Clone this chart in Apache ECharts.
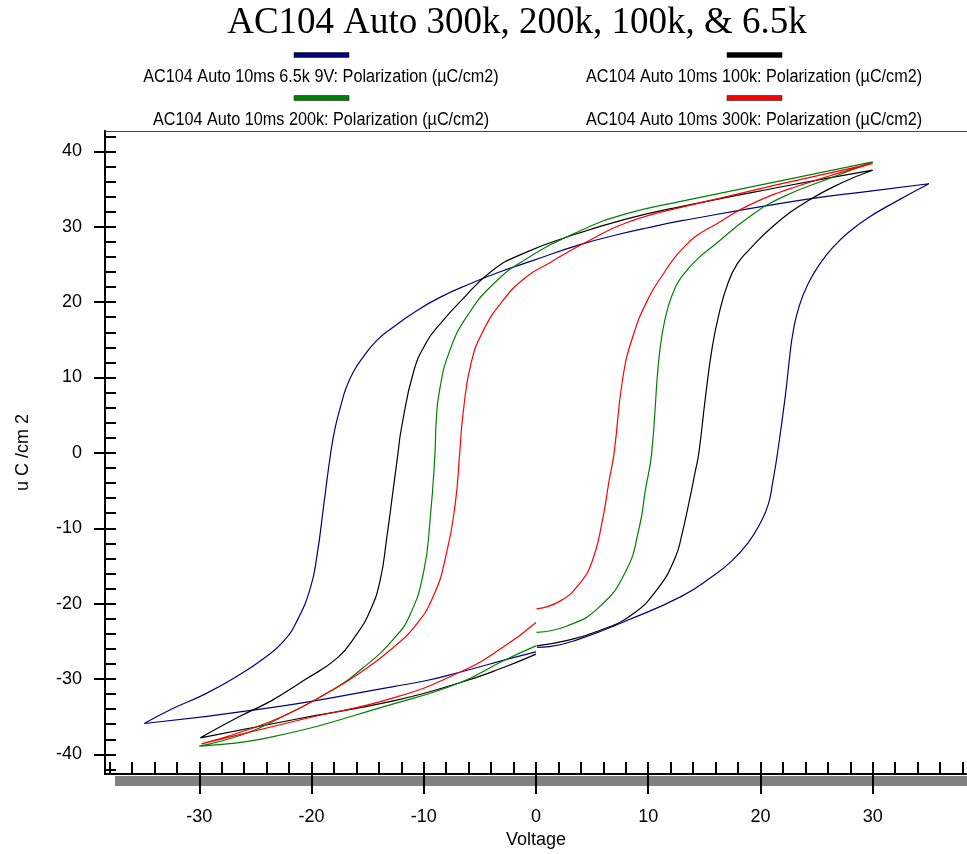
<!DOCTYPE html>
<html><head><meta charset="utf-8">
<script src="https://cdn.jsdelivr.net/npm/echarts@6/dist/echarts.min.js"></script>
<style>html,body{margin:0;padding:0;background:#fff}#c{width:967px;height:854px}</style>
</head><body><div id="c"></div>
<script>
const chartTitle = 'AC104 Auto 300k, 200k, 100k, & 6.5k';
const seriesNames = [
  'AC104 Auto 10ms 6.5k 9V: Polarization (µC/cm2)',
  'AC104 Auto 10ms 100k: Polarization (µC/cm2)',
  'AC104 Auto 10ms 200k: Polarization (µC/cm2)',
  'AC104 Auto 10ms 300k: Polarization (µC/cm2)'
];
const seriesColors = ['#000080', '#000000', '#008000', '#ff0000'];
const xTickLabels = [-30, -20, -10, 0, 10, 20, 30];
const xMinorTicks = [-38,-36,-34,-32,-30,-28,-26,-24,-22,-20,-18,-16,-14,-12,-10,-8,-6,-4,-2,0,2,4,6,8,10,12,14,16,18,20,22,24,26,28,30,32,34,36,38];
const yTickLabels = [-40, -30, -20, -10, 0, 10, 20, 30, 40];
const yMinorTicks = [-42,-40,-38,-36,-34,-32,-30,-28,-26,-24,-22,-20,-18,-16,-14,-12,-10,-8,-6,-4,-2,0,2,4,6,8,10,12,14,16,18,20,22,24,26,28,30,32,34,36,38,40,42];

// 6.5k 9V loop (voltage, polarization)
const v6k5 = [0.1,1.2,3.85,8.0,13.0,15.7,17.4,18.9,19.95,20.7,21.1,21.5,22.2,22.6,22.9,23.4,24.2,25.4,26.6,27.8,29.6,31.9,35.0,
  29.6,23.9,13.0,9.75,7.4,3.85,-0.3,-3.25,-5.6,-8.6,-10.9,-12.7,-14.2,-15.4,-16.25,-16.9,-17.4,-17.9,-18.3,-18.9,-19.5,-20.1,-21.3,-22.5,-24.2,-26.6,-29.5,-32.5,-34.9,
  -23.6,-12.7,-9.75,-6.8,-2.1,0];
const p6k5 = [-25.8,-25.7,-24.7,-22.3,-19.0,-16.4,-14.4,-11.9,-9.4,-6.8,-3.8,-0.2,7.4,12.7,16.0,19.2,22.3,25.3,27.5,29.2,31.2,33.2,35.7,
  34.7,33.6,30.8,29.8,29.0,27.6,25.5,24.0,22.6,20.6,18.6,16.7,14.9,12.7,10.8,8.7,6.2,3.3,-0.1,-6.8,-13.5,-17.9,-22.3,-25.0,-27.2,-29.6,-32.0,-34.0,-35.9,
  -33.8,-31.0,-30.2,-29.1,-27.2,-26.4];

// 100k loop
const v100k = [0.05,2.7,5.6,8.6,10.9,12.4,13.0,13.6,14.2,14.5,15.1,15.7,16.3,17.1,17.9,18.9,21.3,24.2,27.2,30.0,
  21.9,13.0,8.0,2.7,-0.9,-3.8,-6.8,-8.6,-9.75,-10.9,-12.0,-12.3,-12.7,-13.3,-13.9,-14.8,-16.0,-17.7,-20.7,-23.6,-26.6,-29.9,
  -21.3,-12.7,-6.8,-2.95,0];
const p100k = [-25.6,-24.9,-23.6,-21.4,-17.9,-13.9,-10.8,-6.8,-2.4,-0.1,7.4,14.0,18.4,22.5,25.0,26.8,30.3,33.4,35.8,37.5,
  35.3,32.7,31.0,28.6,26.6,24.3,20.0,17.0,14.7,10.8,3.2,-0.1,-4.6,-11.3,-17.0,-21.0,-24.1,-27.2,-30.2,-32.9,-35.1,-37.8,
  -35.3,-32.9,-30.5,-28.5,-26.7];

// 200k loop
const v200k = [0.05,2.7,5.6,8.0,9.2,9.75,10.3,10.9,11.3,11.8,12.4,13.0,14.3,16.0,18.9,21.9,26.3,30.0,
  13.0,8.0,3.85,-0.9,-3.8,-6.2,-7.7,-8.6,-8.9,-9.0,-9.45,-10.0,-11.2,-12.7,-15.4,-18.3,-22.2,-26.0,-30.0,
  -23.6,-12.7,-6.8,-2.95,0];
const p200k = [-23.8,-23.0,-20.5,-15.7,-9.9,-4.9,-0.1,11.8,16.3,19.5,21.9,23.4,25.6,27.7,31.2,33.9,36.5,38.6,
  33.4,31.7,29.4,25.7,22.4,18.0,13.5,8.25,4.0,-0.1,-9.1,-15.7,-21.4,-24.7,-28.5,-31.6,-34.7,-37.3,-38.9,
  -37.7,-33.3,-30.5,-27.6,-25.6];

// 300k loop
const v300k = [0.05,2.1,3.85,5.0,5.9,6.5,6.95,7.7,8.6,10.05,11.5,12.3,13.0,14.3,16.0,18.9,23.35,30.0,
  13.0,8.0,4.4,1.2,-0.9,-2.95,-4.7,-5.8,-6.5,-6.8,-7.2,-8.0,-9.2,-10.9,-12.7,-15.4,-18.3,-22.2,-26.0,-29.8,
  -20.7,-12.7,-6.8,-2.95,0];
const p300k = [-20.7,-19.7,-17.4,-14.4,-9.1,-3.8,-0.1,9.6,15.3,20.6,24.1,25.8,27.0,28.8,30.3,32.8,35.4,38.4,
  32.6,30.5,27.9,25.2,23.3,20.2,16.2,11.8,5.2,-0.1,-6.8,-13.5,-19.2,-23.2,-25.8,-28.9,-31.6,-34.7,-36.9,-38.6,
  -35.3,-32.5,-29.1,-25.8,-22.5];

const loops = [[v6k5, p6k5], [v100k, p100k], [v200k, p200k], [v300k, p300k]];
const zip = (a, b) => a.map((v, i) => [v, b[i]]);

const X_MIN = -38.4, X_MAX = 38.4, Y_MIN = -42.6, Y_MAX = 42.7;
const sans = 'Liberation Sans, Arial, sans-serif';

const chart = echarts.init(document.getElementById('c'));

const legendPos = [
  {cx: 321, barY: 55, textY: 77},
  {cx: 754, barY: 55, textY: 77},
  {cx: 321, barY: 98, textY: 120},
  {cx: 754, barY: 98, textY: 120}
];
const graphics = [
  {type: 'rect', z: -10, shape: {x: 115, y: 776, width: 860, height: 10}, style: {fill: '#808080'}}
];
seriesNames.forEach((n, i) => {
  const p = legendPos[i];
  graphics.push({type: 'rect', shape: {x: p.cx - 27, y: p.barY - 2.5, width: 55, height: 5},
    style: {fill: seriesColors[i], stroke: '#222', lineWidth: 0.6}});
  graphics.push({type: 'text', x: p.cx, y: p.textY, scaleX: 0.9,
    style: {text: n, font: '18px ' + sans, fill: '#000', align: 'center', verticalAlign: 'middle'}});
});

const xBase = {type: 'value', min: X_MIN, max: X_MAX, gridIndex: 0, position: 'bottom', splitLine: {show: false}};
const yBase = {type: 'value', min: Y_MIN, max: Y_MAX, gridIndex: 0, position: 'left', splitLine: {show: false}};

chart.setOption({
  animation: false,
  backgroundColor: '#fff',
  title: {text: chartTitle, left: 512, top: 0, textAlign: 'center',
    textStyle: {fontFamily: 'Liberation Serif, Times New Roman, serif', fontSize: 37, fontWeight: 'normal', color: '#000'}},
  grid: {left: 105, top: 131, right: -5, bottom: 79, show: false},
  graphic: graphics,
  xAxis: [
    Object.assign({}, xBase, {
      name: 'Voltage', nameLocation: 'middle', nameGap: 57,
      nameTextStyle: {fontFamily: sans, fontSize: 18, color: '#000'},
      axisLine: {onZero: false, lineStyle: {color: '#000', width: 2}},
      axisTick: {show: true, inside: false, length: 20, lineStyle: {color: '#000', width: 2}, customValues: xTickLabels},
      axisLabel: {show: true, margin: 34, fontFamily: sans, fontSize: 18, color: '#000', customValues: xTickLabels}
    }),
    Object.assign({}, xBase, {
      axisLine: {onZero: false, lineStyle: {color: '#000', width: 2}},
      axisTick: {show: true, inside: true, length: 12, lineStyle: {color: '#000', width: 2}, customValues: xMinorTicks},
      axisLabel: {show: false}
    }),
    Object.assign({}, xBase, {
      position: 'top',
      axisLine: {onZero: false, lineStyle: {color: '#444', width: 1}},
      axisTick: {show: false},
      axisLabel: {show: false}
    })
  ],
  yAxis: [
    Object.assign({}, yBase, {
      name: 'u C /cm 2', nameLocation: 'middle', nameGap: 73, nameRotate: 90,
      nameTextStyle: {fontFamily: sans, fontSize: 18, color: '#000'},
      axisLine: {onZero: false, lineStyle: {color: '#000', width: 2}},
      axisTick: {show: true, inside: false, length: 11, lineStyle: {color: '#000', width: 2}, customValues: yTickLabels},
      axisLabel: {show: true, margin: 23, fontFamily: sans, fontSize: 18, color: '#000', customValues: yTickLabels}
    }),
    Object.assign({}, yBase, {
      axisLine: {onZero: false, lineStyle: {color: '#000', width: 2}},
      axisTick: {show: true, inside: true, length: 11, lineStyle: {color: '#000', width: 2}, customValues: yMinorTicks},
      axisLabel: {show: false}
    })
  ],
  series: loops.map((l, i) => ({
    name: seriesNames[i], type: 'line', xAxisIndex: 0, yAxisIndex: 0,
    data: zip(l[0], l[1]), showSymbol: false, symbol: 'none', smooth: 0.5,
    lineStyle: {color: seriesColors[i], width: 1.2}, itemStyle: {color: seriesColors[i]}
  }))
});
</script></body></html>
